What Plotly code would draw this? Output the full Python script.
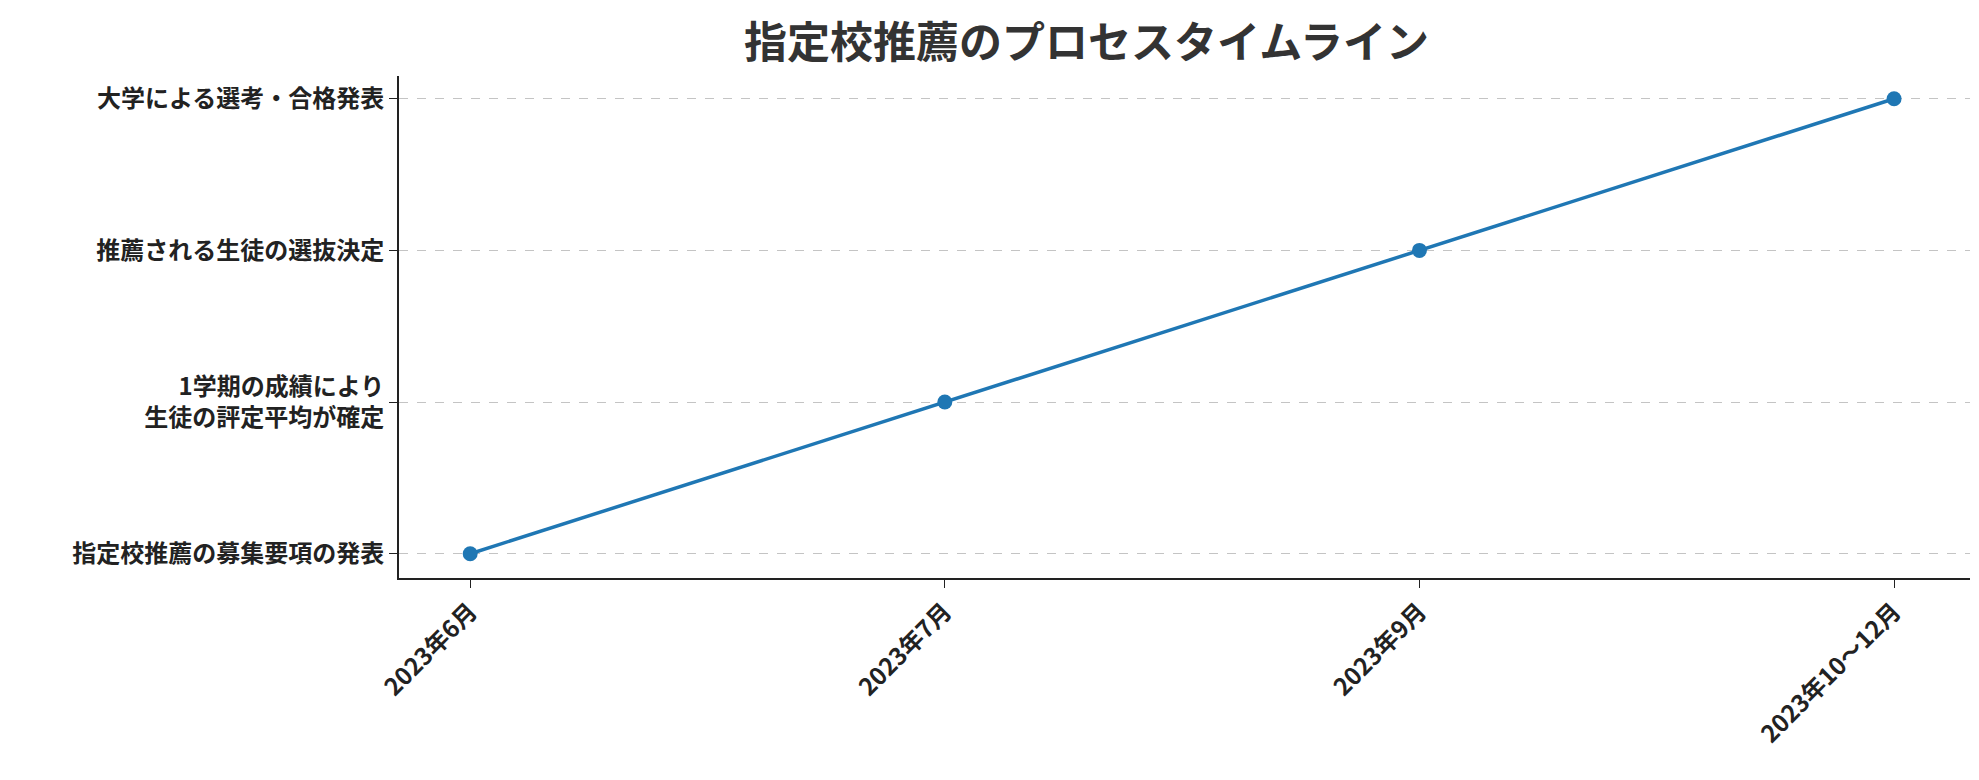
import plotly.graph_objects as go

dates = ["2023年6月", "2023年7月", "2023年9月", "2023年10〜12月"]
steps = [
    "指定校推薦の募集要項の発表",
    "1学期の成績により<br>生徒の評定平均が確定",
    "推薦される生徒の選抜決定",
    "大学による選考・合格発表",
]

font = "Noto Sans CJK JP"

fig = go.Figure(go.Scatter(
    x=list(range(len(dates))), y=list(range(len(steps))),
    mode="lines+markers",
    line=dict(color="#1f77b4", width=3.5),
    marker=dict(color="#1f77b4", size=15),
))
fig.update_layout(
    width=1979, height=780,
    plot_bgcolor="white", paper_bgcolor="white",
    margin=dict(l=391, r=17, t=68, b=210),
    showlegend=False,
    title=dict(text="<b>指定校推薦のプロセスタイムライン</b>", x=0.545, xanchor="center",
               y=0.955, yanchor="middle", font=dict(family=font, size=43, color="#333333")),
    font=dict(family=font, size=24, color="#222222"),
)
fig.update_xaxes(
    tickvals=list(range(len(dates))), ticktext=["<b>%s</b>" % d for d in dates],
    range=[-0.15, 3.16], tickangle=-45, showgrid=False,
    showline=True, linecolor="#222222", linewidth=2,
    ticks="outside", ticklen=8, tickcolor="#222222", zeroline=False,
)
fig.update_yaxes(
    tickvals=list(range(len(steps))), ticktext=["<b>%s</b>" % s for s in steps],
    range=[-0.16, 3.15], showgrid=True, gridcolor="#c4c4c4", griddash="dash", gridwidth=1,
    showline=True, linecolor="#222222", linewidth=2,
    ticks="outside", ticklen=8, tickcolor="#222222", zeroline=False,
)
fig.write_html("out.html")
